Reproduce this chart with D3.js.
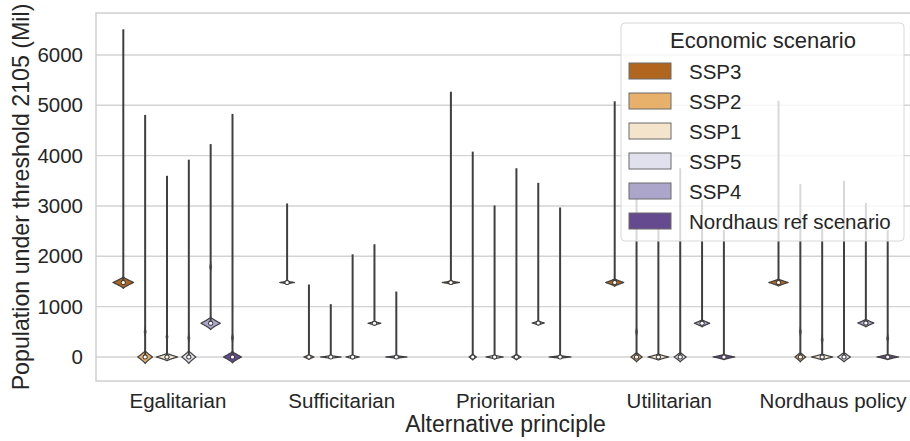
<!DOCTYPE html>
<html>
<head>
<meta charset="utf-8">
<script src="https://cdn.jsdelivr.net/npm/d3@7"></script>
<style>
  html, body { margin: 0; padding: 0; background: #ffffff; }
  svg { display: block; font-family: "Liberation Sans", Arial, sans-serif; }
</style>
</head>
<body>
<svg id="chart" width="910" height="441"></svg>
<script>
// Alternative principles on the x axis and economic scenarios as hue levels
const principles = ["Egalitarian", "Sufficitarian", "Prioritarian", "Utilitarian", "Nordhaus policy"];
const scenarios = ["SSP3", "SSP2", "SSP1", "SSP5", "SSP4", "Nordhaus ref scenario"];
const scenarioColors = ["#b0661f", "#e8b16b", "#f5e4cc", "#e1e1ee", "#aca6cb", "#664a8f"];
const yTicks = [0, 1000, 2000, 3000, 4000, 5000, 6000];

// Rows follow `principles`, columns follow `scenarios` (population in millions)
const maxValues = [
  [6510, 4810, 3600, 3920, 4230, 4830],
  [3050, 1440, 1050, 2040, 2240, 1300],
  [5270, 4080, 3010, 3750, 3460, 2970],
  [5080, 3300, 2750, 3750, 3130, 2520],
  [5090, 3440, 2550, 3500, 3060, 2520]
];
const medianValues = [
  [1480, 0, 0, 0, 670, 0],
  [1480, 0, 0, 0, 670, 0],
  [1480, 0, 0, 0, 675, 0],
  [1480, 0, 0, 0, 670, 0],
  [1480, 0, 0, 0, 675, 0]
];
// Half-height of the dense part of each distribution (millions)
const bodySpread = [
  [115, 130, 75, 130, 125, 115],
  [28, 48, 28, 38, 38, 28],
  [32, 60, 38, 57, 42, 28],
  [75, 98, 62, 98, 72, 52],
  [72, 98, 62, 98, 78, 52]
];
// Peak density, relative to the widest violin
const peakDensity = [
  [0.95, 0.68, 0.98, 0.65, 0.89, 0.83],
  [0.68, 0.47, 0.95, 0.61, 0.59, 0.98],
  [0.80, 0.34, 0.80, 0.43, 0.56, 1.00],
  [0.83, 0.52, 0.95, 0.56, 0.71, 1.00],
  [0.89, 0.50, 0.98, 0.59, 0.74, 1.00]
];
// Small secondary mode along the tail (0 = none)
const secondaryMode = [
  [0, 500, 400, 380, 1790, 380],
  [0, 0, 0, 0, 0, 0],
  [0, 0, 0, 0, 0, 0],
  [0, 500, 0, 0, 0, 0],
  [0, 500, 340, 0, 0, 370]
];

const svg = d3.select("#chart");
const margin = { left: 96, top: 13, right: 915, bottom: 381 };
const textColor = "#262626";
const lineGray = "#3f3f3f";
const fontFamily = "Liberation Sans, Arial, sans-serif";

const x = d3.scaleBand().domain(principles).range([margin.left, margin.right]);
const hue = d3.scaleBand().domain(scenarios)
  .range([-0.4 * x.bandwidth(), 0.4 * x.bandwidth()]);
const y = d3.scaleLinear().domain([-477, 6834]).range([margin.bottom, margin.top]);
const halfMax = hue.bandwidth() / 2;

// Grid lines
svg.append("g")
  .selectAll("line")
  .data(yTicks)
  .join("line")
  .attr("x1", margin.left).attr("x2", margin.right)
  .attr("y1", d => y(d)).attr("y2", d => y(d))
  .attr("stroke", "#d3d3d3").attr("stroke-width", 1.4);

// Axes frame
svg.append("rect")
  .attr("x", margin.left).attr("y", margin.top)
  .attr("width", margin.right - margin.left).attr("height", margin.bottom - margin.top)
  .attr("fill", "none").attr("stroke", "#cccccc").attr("stroke-width", 1.4);

// Y axis (labels only)
const yAxis = d3.axisLeft(y).tickValues(yTicks).tickFormat(d3.format("d"))
  .tickSize(0).tickPadding(13);
const gy = svg.append("g").attr("transform", `translate(${margin.left},0)`).call(yAxis);
gy.select(".domain").remove();
gy.selectAll("text").attr("font-size", 20.5).attr("fill", textColor)
  .attr("font-family", fontFamily);

// X axis (labels only)
const xAxis = d3.axisBottom(x).tickSize(0).tickPadding(12);
const gx = svg.append("g").attr("transform", `translate(0,${margin.bottom})`).call(xAxis);
gx.select(".domain").remove();
gx.selectAll("text").attr("font-size", 20.5).attr("fill", textColor)
  .attr("font-family", fontFamily);

// Axis titles
svg.append("text")
  .attr("x", (margin.left + margin.right) / 2).attr("y", 432)
  .attr("text-anchor", "middle").attr("font-size", 23).attr("fill", textColor)
  .text("Alternative principle");
svg.append("text")
  .attr("transform", `translate(29,${(margin.top + margin.bottom) / 2}) rotate(-90)`)
  .attr("text-anchor", "middle").attr("font-size", 23.2).attr("fill", textColor)
  .text("Population under threshold 2105 (Mil)");

// Violin outline: density profile around a mode, mirrored about the centre
function profile(center, spread, density, steps) {
  const pts = [];
  for (let i = 0; i <= steps; i++) {
    const t = -1 + (2 * i) / steps;
    pts.push({ v: center + t * spread, w: density * Math.pow(1 - Math.abs(t), 1.25) });
  }
  return pts;
}
function violinPath(cx, pts) {
  const right = pts.map(p => [cx + p.w * halfMax, y(p.v)]);
  const left = pts.slice().reverse().map(p => [cx - p.w * halfMax, y(p.v)]);
  return d3.line()(right.concat(left)) + "Z";
}

const cells = [];
principles.forEach((p, i) => {
  scenarios.forEach((s, j) => {
    cells.push({
      principle: p, scenario: s, color: scenarioColors[j],
      max: maxValues[i][j], median: medianValues[i][j],
      spread: bodySpread[i][j], density: peakDensity[i][j], mode2: secondaryMode[i][j]
    });
  });
});

const violins = svg.append("g").selectAll("g").data(cells).join("g")
  .attr("transform", d => `translate(${x(d.principle) + x.bandwidth() / 2 + hue(d.scenario) + hue.bandwidth() / 2},0)`);

// Secondary bumps along the tail
violins.filter(d => d.mode2 > 0).append("path")
  .attr("d", d => violinPath(0, profile(d.mode2, 90, 0.09, 20)))
  .attr("fill", d => d.color).attr("stroke", lineGray).attr("stroke-width", 0.9);

// Main violin body
violins.append("path")
  .attr("d", d => violinPath(0, profile(d.median, d.spread, d.density, 40)))
  .attr("fill", d => d.color).attr("stroke", lineGray).attr("stroke-width", 1.2)
  .attr("stroke-linejoin", "round");

// Whisker from the median up to the maximum
violins.append("line")
  .attr("x1", 0).attr("x2", 0)
  .attr("y1", d => y(d.median)).attr("y2", d => y(d.max))
  .attr("stroke", lineGray).attr("stroke-width", 2);

// Interquartile box and median point
violins.append("rect")
  .attr("x", -2.6).attr("width", 5.2)
  .attr("y", d => y(d.median) - 2.6).attr("height", 5.2)
  .attr("rx", 2.4)
  .attr("fill", lineGray);
violins.append("circle")
  .attr("cx", 0).attr("cy", d => y(d.median)).attr("r", 1.6)
  .attr("fill", "#ffffff");

// Legend
const legend = svg.append("g").attr("transform", "translate(621,23)");
legend.append("rect")
  .attr("width", 283).attr("height", 218).attr("rx", 4)
  .attr("fill", "#ffffff").attr("fill-opacity", 0.8)
  .attr("stroke", "#d8d8d8").attr("stroke-width", 1);
legend.append("text")
  .attr("x", 142).attr("y", 25)
  .attr("text-anchor", "middle").attr("font-size", 22).attr("fill", textColor)
  .text("Economic scenario");
const items = legend.selectAll("g.item").data(scenarios).join("g")
  .attr("class", "item")
  .attr("transform", (d, i) => `translate(0,${48 + i * 30})`);
items.append("rect")
  .attr("x", 8).attr("y", -8).attr("width", 42).attr("height", 16)
  .attr("fill", (d, i) => scenarioColors[i])
  .attr("stroke", "#6a6a6a").attr("stroke-width", 1);
items.append("text")
  .attr("x", 68).attr("y", 7.5)
  .attr("font-size", 20.5).attr("fill", textColor)
  .text(d => d);
</script>
</body>
</html>
